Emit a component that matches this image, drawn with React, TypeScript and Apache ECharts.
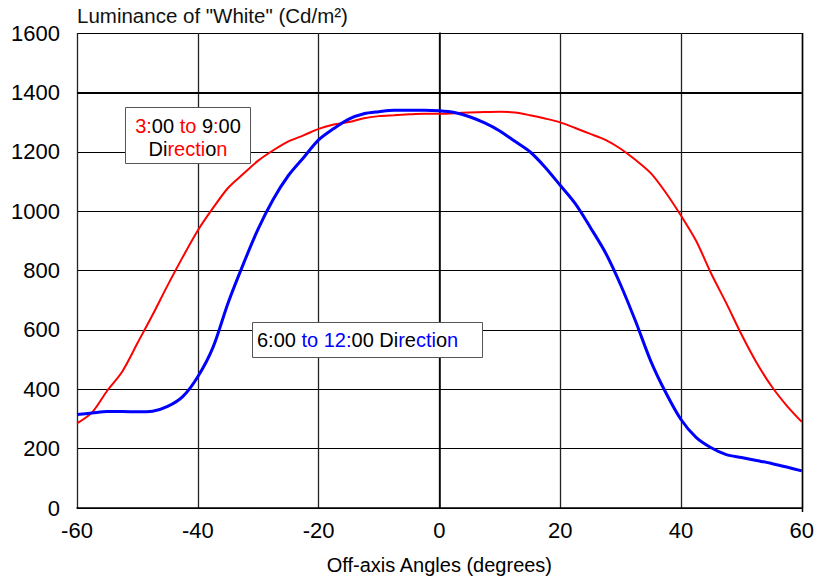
import React, { useEffect, useRef } from "react";
import * as echarts from "echarts";

const angles = [
  -60, -57.5, -55, -52.5, -50, -47.5, -45, -42.5, -40, -37.5, -35, -32.5, -30, -27.5, -25, -22.5,
  -20, -17.5, -15, -12.5, -10, -7.5, -5, -2.5, 0, 2.5, 5, 7.5, 10, 12.5, 15, 17.5, 20, 22.5, 25,
  27.5, 30, 32.5, 35, 37.5, 40, 42.5, 45, 47.5, 50, 52.5, 55, 57.5, 60,
];

const horizontal3to9 = [
  285, 322, 395, 460, 555, 650, 750, 845, 935, 1010, 1078, 1125, 1170, 1205, 1235, 1255,
  1277, 1292, 1300, 1313, 1320, 1323, 1326, 1328, 1328, 1330, 1332, 1334, 1335, 1332, 1323, 1312,
  1299, 1280, 1260, 1240, 1210, 1172, 1128, 1062, 985, 900, 790, 690, 585, 490, 410, 345, 290,
];

const vertical6to12 = [
  315, 320, 325, 325, 324, 326, 342, 375, 442, 540, 690, 820, 940, 1040, 1120, 1180,
  1240, 1278, 1310, 1328, 1335, 1340, 1340, 1340, 1338, 1332, 1318, 1297, 1270, 1235, 1200, 1148,
  1087, 1025, 945, 860, 752, 628, 495, 388, 298, 238, 203, 180, 170, 160, 150, 138, 125,
];

const titleText = 'Luminance of "White" (Cd/m²)';
const xAxisName = "Off-axis Angles (degrees)";

const FONT = "'Liberation Sans', Arial, sans-serif";

export default function App() {
  const ref = useRef<HTMLDivElement>(null);

  useEffect(() => {
    if (!ref.current) return;
    const chart = echarts.init(ref.current, null, { renderer: "svg" });
    const pair = (vals: number[]) => angles.map((a, i) => [a, vals[i]]);
    const f = `20px ${FONT}`;
    const rich = {
      r: { fill: "#ff0000", font: f },
      b: { fill: "#0000ff", font: f },
      k: { fill: "#000000", font: f },
    };
    chart.setOption({
      animation: false,
      backgroundColor: "#ffffff",
      grid: { left: 77, right: 14, top: 33, bottom: 68, containLabel: false },
      xAxis: {
        type: "value",
        min: -60,
        max: 60,
        interval: 20,
        name: xAxisName,
        nameLocation: "middle",
        nameGap: 47,
        nameTextStyle: { color: "#000", fontSize: 20, fontFamily: FONT },
        axisLine: { show: true, onZero: false, lineStyle: { color: "#000", width: 1.5 } },
        axisTick: { show: false },
        axisLabel: { color: "#000", fontSize: 22, fontFamily: FONT, margin: 11 },
        splitLine: { show: true, lineStyle: { color: "#222", width: 1.3 } },
      },
      yAxis: {
        type: "value",
        min: 0,
        max: 1600,
        interval: 200,
        axisLine: { show: true, lineStyle: { color: "#000", width: 1.5 } },
        axisTick: { show: false },
        axisLabel: {
          color: "#000",
          fontSize: 22,
          fontFamily: FONT,
          margin: 17,
          formatter: (v: number) => String(v),
        },
        splitLine: { show: true, lineStyle: { color: "#000", width: 1 } },
      },
      graphic: [
        {
          type: "text",
          left: 77,
          top: 5,
          style: { text: titleText, fill: "#111", font: `20.5px ${FONT}` },
        },
        {
          type: "rect",
          shape: { x: 802.5, y: 33, width: 0, height: 479 },
          style: { stroke: "#000", lineWidth: 1.5, fill: "none" },
          z: 10,
        },
        {
          type: "rect",
          shape: { x: 125.5, y: 107.5, width: 125, height: 56 },
          style: { fill: "#fff", stroke: "#555", lineWidth: 1 },
          z: 20,
        },
        {
          type: "text",
          x: 188,
          y: 126,
          style: {
            text: "{r|3:}{k|00 }{r|to }{k|9}{r|:}{k|00}",
            align: "center",
            verticalAlign: "middle",
            rich,
          },
          z: 21,
        },
        {
          type: "text",
          x: 188,
          y: 149,
          style: {
            text: "{k|Di}{r|recti}{k|o}{r|n}",
            align: "center",
            verticalAlign: "middle",
            rich,
          },
          z: 21,
        },
        {
          type: "rect",
          shape: { x: 252.5, y: 322.5, width: 230, height: 35 },
          style: { fill: "#fff", stroke: "#555", lineWidth: 1 },
          z: 20,
        },
        {
          type: "text",
          x: 257,
          y: 340,
          style: {
            text: "{k|6:00 }{b|to 12:}{k|00 Di}{b|r}{k|e}{b|cti}{k|o}{b|n}",
            align: "left",
            verticalAlign: "middle",
            rich,
          },
          z: 21,
        },
      ],
      series: [
        {
          name: "3:00 to 9:00 Direction",
          type: "line",
          data: pair(horizontal3to9),
          showSymbol: false,
          smooth: 0.3,
          lineStyle: { color: "#ff0000", width: 2 },
          z: 3,
          markLine: {
            silent: true,
            symbol: "none",
            label: { show: false },
            lineStyle: { color: "#000", width: 2, type: "solid" },
            data: [{ yAxis: 1400 }],
          },
        },
        {
          name: "6:00 to 12:00 Direction",
          type: "line",
          data: pair(vertical6to12),
          showSymbol: false,
          smooth: 0.3,
          lineStyle: { color: "#0000ff", width: 3 },
          z: 4,
        },
      ],
    });
    return () => chart.dispose();
  }, []);

  return (
    <div
      ref={ref}
      style={{ position: "fixed", left: 0, top: 0, width: 817, height: 580, background: "#fff" }}
    />
  );
}
